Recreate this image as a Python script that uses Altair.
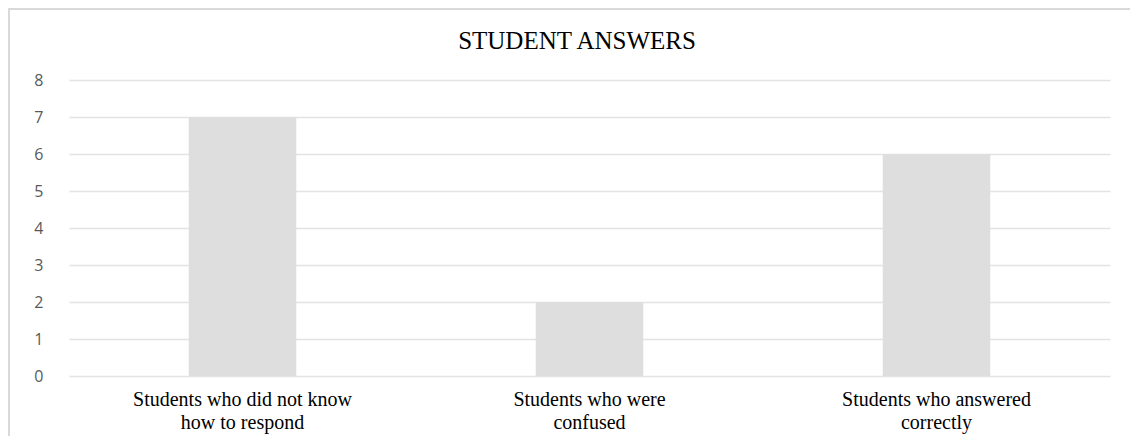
import altair as alt
import pandas as pd

categories = [
    "Students who did not know\nhow to respond",
    "Students who were\nconfused",
    "Students who answered\ncorrectly",
]
values = [7, 2, 6]
y_ticks = [0, 1, 2, 3, 4, 5, 6, 7, 8]
title_text = "STUDENT ANSWERS"

df = pd.DataFrame({"category": categories, "value": values})

W, H = 1041, 296

bars = alt.Chart(df).mark_bar(color="#dedede").encode(
    x=alt.X(
        "category:N",
        sort=categories,
        title=None,
        scale=alt.Scale(paddingInner=0.69, paddingOuter=0.345),
        axis=alt.Axis(
            labelAngle=0,
            labelExpr="split(datum.label, '\\n')",
            labelFont="Liberation Serif",
            labelFontSize=20,
            labelColor="#000000",
            labelLineHeight=23,
            labelPadding=13,
            labelLimit=400,
            ticks=False,
            domain=False,
            grid=False,
        ),
    ),
    y=alt.Y(
        "value:Q",
        title=None,
        scale=alt.Scale(domain=[0, 8], nice=False),
        axis=alt.Axis(
            values=y_ticks,
            labelFont="Open Sans",
            labelFontSize=16,
            labelColor="#595959",
            labelPadding=26,
            ticks=False,
            domain=False,
            grid=True,
            gridColor="#e3e3e3",
            gridWidth=1.5,
        ),
    ),
)

frame = alt.Chart(alt.Data(values=[{"f": 1}])).mark_rect(
    filled=False, stroke="#d9d9d9", strokeWidth=2
).encode(
    x=alt.value(-60),
    x2=alt.value(W + 30),
    y=alt.value(-71),
    y2=alt.value(H + 80),
)

title = alt.Chart(alt.Data(values=[{"t": title_text}])).mark_text(
    font="Liberation Serif",
    fontSize=25,
    color="#000000",
    align="center",
    baseline="alphabetic",
).encode(
    text="t:N",
    x=alt.value(508),
    y=alt.value(-31),
)

chart = alt.layer(frame, bars, title).properties(
    width=W,
    height=H,
    autosize=alt.AutoSizeParams(type="none"),
    padding={"left": 61, "top": 72, "right": 20, "bottom": 60},
).configure(background="#ffffff").configure_view(stroke=None)

chart.save("out.html", embed_options={"renderer": "svg", "actions": False})
